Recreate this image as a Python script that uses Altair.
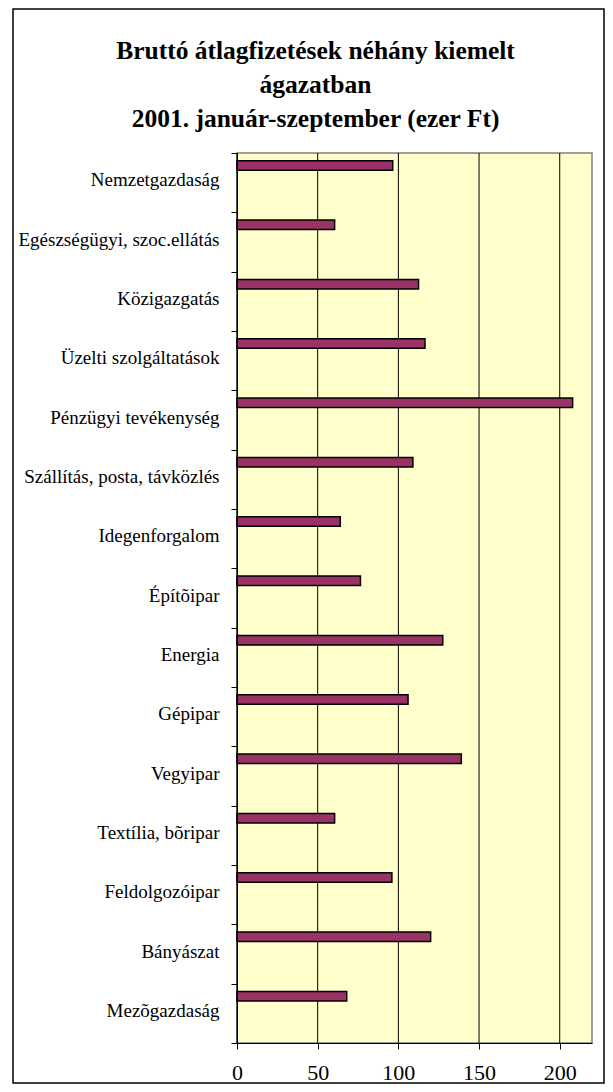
import altair as alt
import pandas as pd

categories = [
    "Nemzetgazdaság",
    "Egészségügyi, szoc.ellátás",
    "Közigazgatás",
    "Üzelti szolgáltatások",
    "Pénzügyi tevékenység",
    "Szállítás, posta, távközlés",
    "Idegenforgalom",
    "Építõipar",
    "Energia",
    "Gépipar",
    "Vegyipar",
    "Textília, bõripar",
    "Feldolgozóipar",
    "Bányászat",
    "Mezõgazdaság",
]
values = [96.5, 60.5, 112.5, 116.5, 208, 109, 64, 76.5, 127.5, 106, 139, 60.5, 96, 120, 68]
x_ticks = [0, 50, 100, 150, 200]
title_lines = [
    "Bruttó átlagfizetések néhány kiemelt",
    "ágazatban",
    "2001. január-szeptember (ezer Ft)",
]

FONT = "Liberation Serif"
W, H = 355, 890
x_scale = alt.Scale(domain=[0, 220], nice=False, zero=True)
x_axis = alt.Axis(
    values=x_ticks, title=None, grid=False, tickSize=6, tickColor="#000000",
    domainColor="#000000", labelFontSize=22, labelFont=FONT, labelColor="#000000",
    labelPadding=13, labelFlush=False, zindex=1,
)

df = pd.DataFrame({"agazat": categories, "ertek": values})

bars = alt.Chart(df).mark_bar(
    height=9.5, yOffset=-17.2, fill="#993366", stroke="#000000", strokeWidth=1.5
).encode(
    x=alt.X("ertek:Q", scale=x_scale, axis=x_axis),
    y=alt.Y(
        "agazat:N",
        sort=categories,
        scale=alt.Scale(paddingInner=0, paddingOuter=0),
        axis=alt.Axis(
            title=None, tickBand="extent", tickSize=6, tickColor="#000000",
            domainColor="#000000", labelPadding=12, labelFontSize=19, labelFont=FONT,
            labelColor="#000000", labelOffset=-3, labelLimit=300, grid=False, zindex=1,
        ),
    ),
)

grid = alt.Chart(pd.DataFrame({"v": x_ticks})).mark_rule(
    color="#000000", strokeWidth=1
).encode(
    x=alt.X("v:Q", scale=x_scale, axis=x_axis), y=alt.value(0), y2=alt.value(H)
)

one_row = pd.DataFrame({"k": [0]})

plot_bg = alt.Chart(one_row).mark_rect(
    fill="#FFFFCC", stroke="#808080", strokeWidth=1.5
).encode(
    x=alt.value(0), x2=alt.value(W), y=alt.value(0), y2=alt.value(H)
)

border = alt.Chart(one_row).mark_rect(
    fill="#FFFFFF", fillOpacity=0, stroke="#000000", strokeWidth=1.5
).encode(
    x=alt.value(-224), x2=alt.value(367), y=alt.value(-144), y2=alt.value(930)
)

title = alt.Chart(pd.DataFrame({"t": ["\n".join(title_lines)]})).mark_text(
    font=FONT, fontSize=25.5, fontWeight="bold", align="center", baseline="alphabetic",
    lineBreak="\n", lineHeight=33.7, color="#000000",
).encode(text="t:N", x=alt.value(78.5), y=alt.value(-93.7))

chart = alt.layer(border, plot_bg, grid, title, bars).properties(
    width=W,
    height=H,
    autosize=alt.AutoSizeParams(type="none"),
    padding={"left": 229, "top": 145, "right": 13, "bottom": 41},
    background="#FFFFFF",
).configure_view(
    strokeWidth=0
)

chart.save("out.html", embed_options={"renderer": "svg", "actions": False})
